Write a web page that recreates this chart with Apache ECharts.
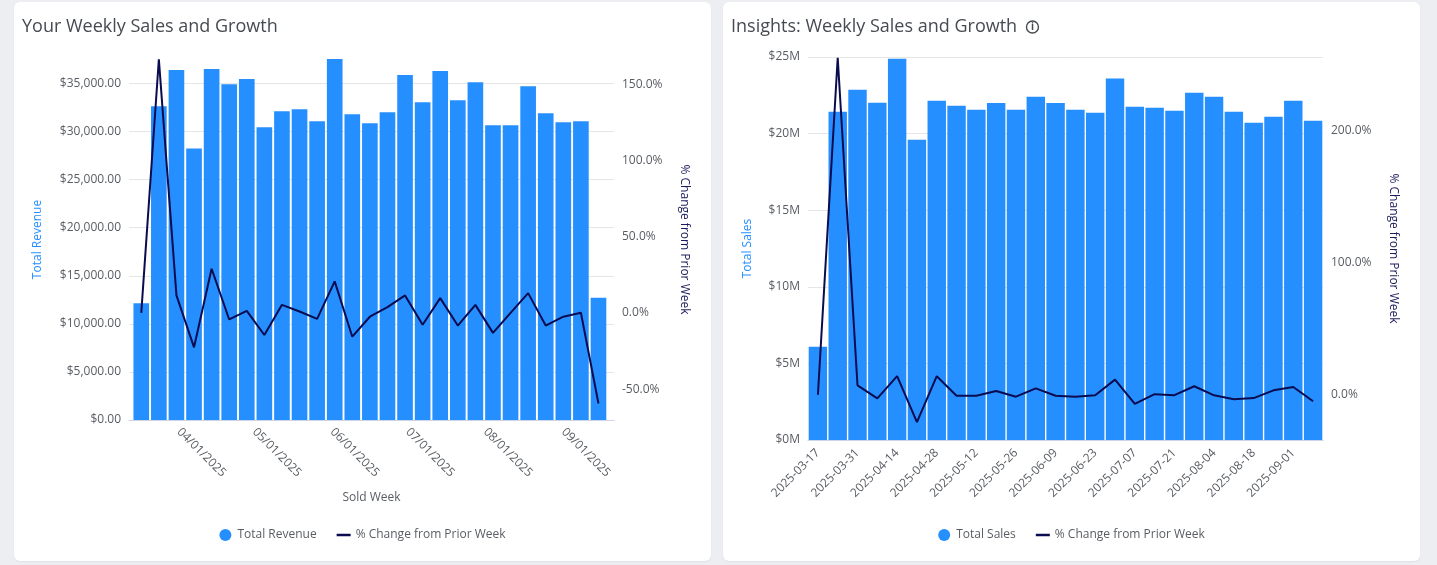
<!DOCTYPE html>
<html>
<head>
<meta charset="utf-8">
<title>Weekly Sales and Growth</title>
<script src="https://cdn.jsdelivr.net/npm/echarts@6/dist/echarts.min.js"></script>
<style>
  html, body { margin: 0; padding: 0; background: #eceef1; width: 1437px; height: 565px; overflow: hidden; }
  .card { position: absolute; top: 2px; width: 697px; height: 559px; background: #fff; border-radius: 6px; box-shadow: 0 1px 2px rgba(0,0,0,0.06); }
  #left-card { left: 14px; }
  #right-card { left: 723px; }
  .chart { width: 100%; height: 100%; }
</style>
</head>
<body>
<div class="card" id="left-card"><div class="chart" id="revenue-chart"></div></div>
<div class="card" id="right-card"><div class="chart" id="sales-chart"></div></div>
<script>
// left card: weekly revenue (time axis)
const revenueWeeks = ['2025-03-17', '2025-03-24', '2025-03-31', '2025-04-07', '2025-04-14', '2025-04-21', '2025-04-28',
  '2025-05-05', '2025-05-12', '2025-05-19', '2025-05-26', '2025-06-02', '2025-06-09', '2025-06-16', '2025-06-23',
  '2025-06-30', '2025-07-07', '2025-07-14', '2025-07-21', '2025-07-28', '2025-08-04', '2025-08-11', '2025-08-18',
  '2025-08-25', '2025-09-01', '2025-09-08', '2025-09-15']
const revenueValues = [12150, 32630, 36390, 28240, 36490, 34920, 35450, 30430, 32100, 32310, 31060, 37540, 31790, 30850,
  31990, 35870, 33050, 36280, 33260, 35130, 30640, 30640, 34710, 31890, 30950, 31060, 12700]
const revenueChange = [0, 166.5, 11.5, -22.6, 29.0, -4.3, 1.3, -14.5, 5.3, 0.9, -3.9, 20.7, -15.6, -2.5, 3.8, 11.5,
  -7.8, 9.7, -8.3, 5.3, -13.1, 0, 13.0, -8.3, -2.5, 0.1, -59.5]

// right card: weekly sales (category axis)
const salesWeeks = ['2025-03-17', '2025-03-24', '2025-03-31', '2025-04-07', '2025-04-14', '2025-04-21', '2025-04-28',
  '2025-05-05', '2025-05-12', '2025-05-19', '2025-05-26', '2025-06-02', '2025-06-09', '2025-06-16', '2025-06-23',
  '2025-06-30', '2025-07-07', '2025-07-14', '2025-07-21', '2025-07-28', '2025-08-04', '2025-08-11', '2025-08-18',
  '2025-08-25', '2025-09-01', '2025-09-08']
const salesValues = [6080000, 21430000, 22870000, 22010000, 24890000, 19600000, 22140000, 21820000, 21560000, 22000000,
  21560000, 22400000, 22000000, 21560000, 21360000, 23600000, 21750000, 21690000, 21490000, 22660000, 22400000,
  21430000, 20710000, 21100000, 22140000, 20840000]
const salesChange = [0, 255, 7.0, -2.8, 14.0, -20.7, 14.0, -0.8, -0.8, 2.8, -1.5, 4.8, -0.8, -1.5, -0.4, 11.4, -7.0,
  0.4, -0.4, 6.4, -0.5, -3.5, -2.6, 3.3, 5.8, -5.0]

const BAR_COLOR = '#268fff'
const LINE_COLOR = '#0b0b50'
const TEXT_COLOR = '#595d63'
const FONT = 'Open Sans'
// plain dash for the line series in the legend (no dot)
const LINE_ICON = 'path://M0,0 L14,0 L14,2.5 L0,2.5 Z'

function baseOption(title) {
  return {
    textStyle: { fontFamily: FONT },
    animation: false,
    title: {
      text: title,
      left: 8,
      top: 16,
      padding: 0,
      textStyle: {
        fontFamily: FONT, fontSize: 18, fontWeight: 'normal', color: '#464b51',
        rich: {
          icon: {
            width: 12, height: 12, lineHeight: 13, align: 'center',
            borderColor: '#464b51', borderWidth: 1.4, borderRadius: 8,
            fontFamily: FONT, fontSize: 10, fontWeight: 'bold', color: '#464b51'
          }
        }
      }
    },
    legend: {
      top: 522,
      left: 'center',
      itemWidth: 14,
      itemHeight: 12,
      itemGap: 20,
      textStyle: { fontFamily: FONT, fontSize: 12, color: TEXT_COLOR }
    }
  }
}

function moneyFull(v) {
  return '$' + v.toLocaleString('en-US', { minimumFractionDigits: 2, maximumFractionDigits: 2 })
}

function pct(v) {
  return v.toFixed(1) + '%'
}

// ---- left chart
const revenueChart = echarts.init(document.getElementById('revenue-chart'))
let leftOpt = baseOption('Your Weekly Sales and Growth')
leftOpt.legend.data = [{ name: 'Total Revenue', icon: 'circle' }, { name: '% Change from Prior Week', icon: LINE_ICON }]
leftOpt.grid = { left: 115, right: 97, top: 57, bottom: 141, outerBoundsMode: 'none' }
leftOpt.xAxis = {
  type: 'time',
  // v6 pads a time axis by half a bar on both sides, so keep these tight
  min: +new Date(2025, 2, 15, 10),
  max: +new Date(2025, 8, 17, 21),
  minInterval: 28 * 86400000,
  name: 'Sold Week',
  nameLocation: 'middle',
  nameGap: 72,
  nameTextStyle: { fontFamily: FONT, fontSize: 12, color: TEXT_COLOR },
  axisLine: { lineStyle: { color: '#ccd6eb' } },
  axisTick: { show: false },
  splitLine: { show: false },
  axisLabel: {
    formatter: '{MM}/{dd}/{yyyy}', rotate: -45, fontSize: 12, color: TEXT_COLOR, margin: 10,
    showMinLabel: false, showMaxLabel: false
  }
}
leftOpt.yAxis = [{
  type: 'value',
  min: 0,
  max: 37540,
  interval: 5000,
  name: 'Total Revenue',
  nameLocation: 'middle',
  nameGap: 85,
  nameTextStyle: { fontFamily: FONT, fontSize: 12, color: BAR_COLOR },
  axisLine: { show: false },
  axisTick: { show: false },
  axisLabel: { formatter: moneyFull, fontSize: 12, color: TEXT_COLOR, margin: 8, showMaxLabel: false },
  splitLine: { lineStyle: { color: '#e6e6e6' }, showMaxLine: false }
}, {
  type: 'value',
  min: -70.3,
  max: 166.7,
  splitNumber: 5,
  name: '% Change from Prior Week',
  nameLocation: 'middle',
  nameRotate: -90,
  nameGap: 64,
  nameTextStyle: { fontFamily: FONT, fontSize: 12, color: '#1c1c5c' },
  axisLine: { show: false },
  axisTick: { show: false },
  axisLabel: { formatter: pct, fontSize: 12, color: TEXT_COLOR, margin: 8, showMinLabel: false, showMaxLabel: false },
  splitLine: { show: false }
}]
leftOpt.series = [{
  name: 'Total Revenue',
  type: 'bar',
  barCategoryGap: '11%',
  itemStyle: { color: BAR_COLOR },
  data: revenueWeeks.map((d, i) => [d, revenueValues[i]])
}, {
  name: '% Change from Prior Week',
  type: 'line',
  yAxisIndex: 1,
  symbol: 'none',
  lineStyle: { width: 2, color: LINE_COLOR },
  itemStyle: { color: LINE_COLOR },
  z: 5,
  data: revenueWeeks.map((d, i) => [d, revenueChange[i]])
}]
revenueChart.setOption(leftOpt)

// ---- right chart
const salesChart = echarts.init(document.getElementById('sales-chart'))
let rightOpt = baseOption('Insights: Weekly Sales and Growth  {icon|i}')
rightOpt.legend.data = [{ name: 'Total Sales', icon: 'circle' }, { name: '% Change from Prior Week', icon: LINE_ICON }]
rightOpt.grid = { left: 85, right: 97, top: 55, bottom: 121, outerBoundsMode: 'none' }
rightOpt.xAxis = {
  type: 'category',
  data: salesWeeks,
  axisLine: { lineStyle: { color: '#ccd6eb' } },
  axisTick: { show: false },
  axisLabel: { interval: 1, rotate: 45, fontSize: 12, color: TEXT_COLOR, margin: 11 }
}
rightOpt.yAxis = [{
  type: 'value',
  min: 0,
  max: 25000000,
  interval: 5000000,
  name: 'Total Sales',
  nameLocation: 'middle',
  nameGap: 54,
  nameTextStyle: { fontFamily: FONT, fontSize: 12, color: BAR_COLOR },
  axisLine: { show: false },
  axisTick: { show: false },
  axisLabel: { formatter: v => '$' + (v / 1000000) + 'M', fontSize: 12, color: TEXT_COLOR, margin: 8 },
  splitLine: { lineStyle: { color: '#e6e6e6' } }
}, {
  type: 'value',
  min: -34.3,
  max: 255.6,
  splitNumber: 3,
  name: '% Change from Prior Week',
  nameLocation: 'middle',
  nameRotate: -90,
  nameGap: 64,
  nameTextStyle: { fontFamily: FONT, fontSize: 12, color: '#1c1c5c' },
  axisLine: { show: false },
  axisTick: { show: false },
  axisLabel: { formatter: pct, fontSize: 12, color: TEXT_COLOR, margin: 8, showMinLabel: false, showMaxLabel: false },
  splitLine: { show: false }
}]
rightOpt.series = [{
  name: 'Total Sales',
  type: 'bar',
  barCategoryGap: '7%',
  itemStyle: { color: BAR_COLOR },
  data: salesValues
}, {
  name: '% Change from Prior Week',
  type: 'line',
  yAxisIndex: 1,
  symbol: 'none',
  lineStyle: { width: 2, color: LINE_COLOR },
  itemStyle: { color: LINE_COLOR },
  z: 5,
  data: salesChange
}]
salesChart.setOption(rightOpt)
</script>
</body>
</html>
